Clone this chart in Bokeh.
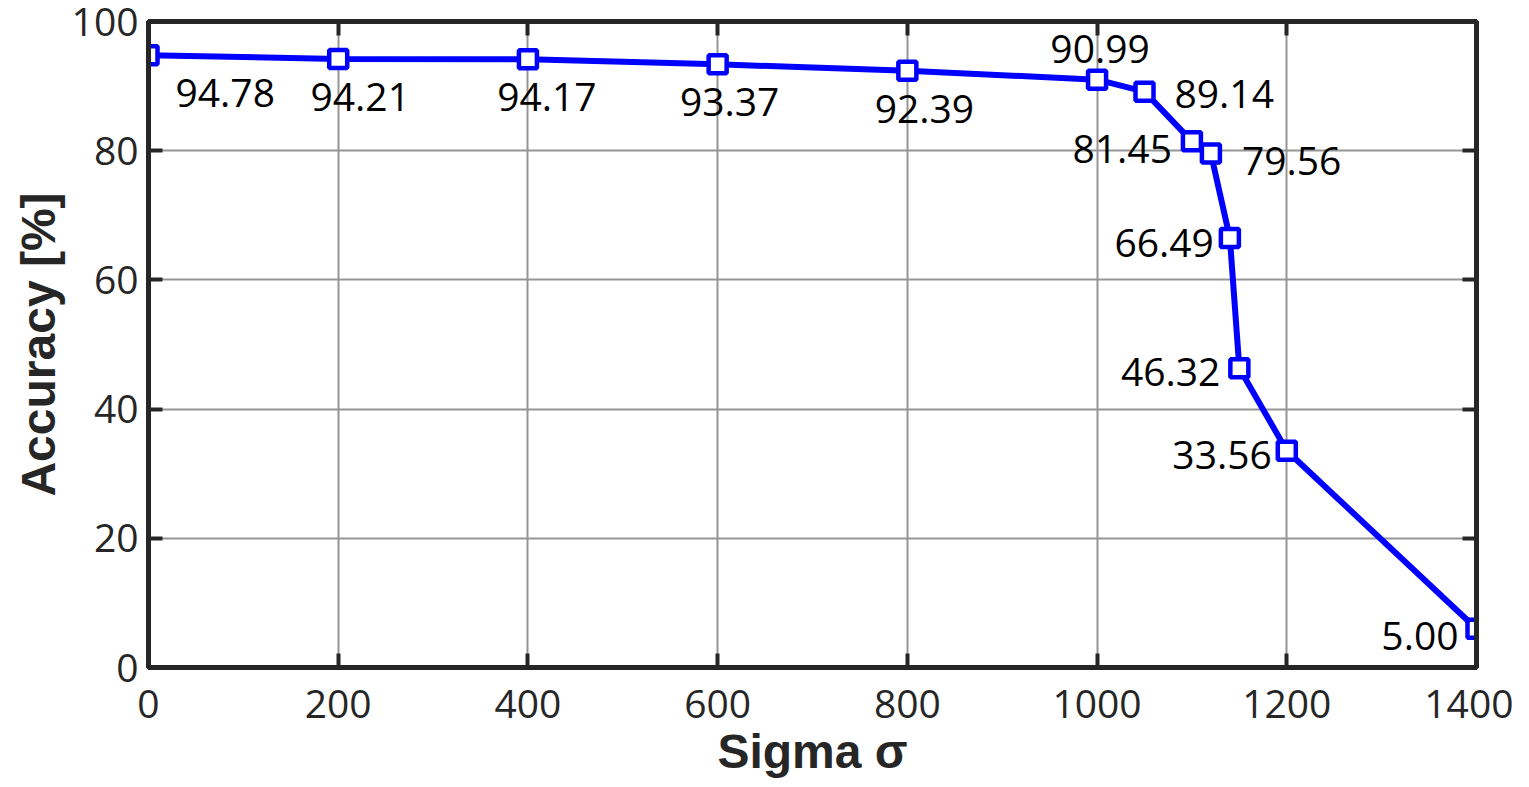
from bokeh.plotting import figure
from bokeh.models import Range1d, LinearAxis, FixedTicker, ColumnDataSource
from bokeh.core.properties import value
from bokeh.embed import file_html
from bokeh.resources import INLINE

# ---- data ----
sigma = [0, 200, 400, 600, 800, 1000, 1050, 1100, 1120, 1140, 1150, 1200, 1400]
accuracy = [94.78, 94.21, 94.17, 93.37, 92.39, 90.99, 89.14, 81.45, 79.56, 66.49, 46.32, 33.56, 6.0]
labels = ["94.78", "94.21", "94.17", "93.37", "92.39", "90.99", "89.14",
          "81.45", "79.56", "66.49", "46.32", "33.56", "5.00"]
x_ticks = [0, 200, 400, 600, 800, 1000, 1200, 1400]
y_ticks = [0, 20, 40, 60, 80, 100]

# ---- label placement (layout only) ----
lab_dx = [27, 22, 19, 12, 17, 3, 30, -20, 31, -16, -19, -15, -18]
lab_dy = [38, 38, 38, 38, 38, -31, 2, 8, 7, 5, 4, 4, 7]
lab_align = ["left", "center", "center", "center", "center", "center", "left",
             "right", "left", "right", "right", "right", "right"]

TXT = "#262626"
BLUE = "#0000ff"

p = figure(width=1513, height=780, output_backend="svg", toolbar_location=None,
           x_range=Range1d(0, 1400), y_range=Range1d(0, 100),
           min_border_left=148, min_border_right=37, min_border_top=21, min_border_bottom=112)

p.background_fill_color = "white"
p.outline_line_color = TXT
p.outline_line_width = 5

p.xgrid.ticker = FixedTicker(ticks=x_ticks)
p.ygrid.ticker = FixedTicker(ticks=y_ticks)
for g in (p.xgrid, p.ygrid):
    g.grid_line_color = "#959595"
    g.grid_line_width = 2

def style_axis(ax, ticks, show_labels):
    ax.ticker = FixedTicker(ticks=ticks)
    ax.axis_line_color = TXT
    ax.axis_line_width = 5
    ax.major_tick_line_color = TXT
    ax.major_tick_line_width = 4
    ax.major_tick_in = 14
    ax.major_tick_out = 0
    ax.minor_tick_line_color = None
    if show_labels:
        ax.major_label_text_font = "Open Sans"
        ax.major_label_text_font_size = "39px"
        ax.major_label_text_color = TXT
    else:
        ax.major_label_overrides = {t: "" for t in ticks}
        ax.major_label_text_font_size = "8px"
        ax.major_label_standoff = 0

style_axis(p.xaxis[0], x_ticks, True)
style_axis(p.yaxis[0], y_ticks, True)
p.xaxis[0].major_label_standoff = 22
p.yaxis[0].major_label_standoff = 10
p.xaxis[0].axis_label = "Sigma σ"
p.yaxis[0].axis_label = "Accuracy [%]"
for ax in (p.xaxis[0], p.yaxis[0]):
    ax.axis_label_text_font = "Liberation Sans"
    ax.axis_label_text_font_style = "bold"
    ax.axis_label_text_font_size = "48px"
    ax.axis_label_text_color = TXT
p.xaxis[0].axis_label_standoff = 4
p.yaxis[0].axis_label_standoff = 4

top_ax = LinearAxis()
style_axis(top_ax, x_ticks, False)
p.add_layout(top_ax, "above")
right_ax = LinearAxis()
style_axis(right_ax, y_ticks, False)
p.add_layout(right_ax, "right")

src = ColumnDataSource(dict(x=sigma, y=accuracy, t=labels, dx=lab_dx, dy=lab_dy, al=lab_align))

p.line("x", "y", source=src, line_color=BLUE, line_width=6)
p.scatter("x", "y", source=src, marker="square", size=18, line_color=BLUE,
          line_width=4.5, fill_color="white")

p.text("x", "y", text="t", source=src, x_offset="dx", y_offset="dy",
       text_align="al", text_baseline="middle",
       text_font=value("Open Sans"), text_font_size="39px", text_color="black")

open("out.html", "w").write(file_html(p, INLINE))
